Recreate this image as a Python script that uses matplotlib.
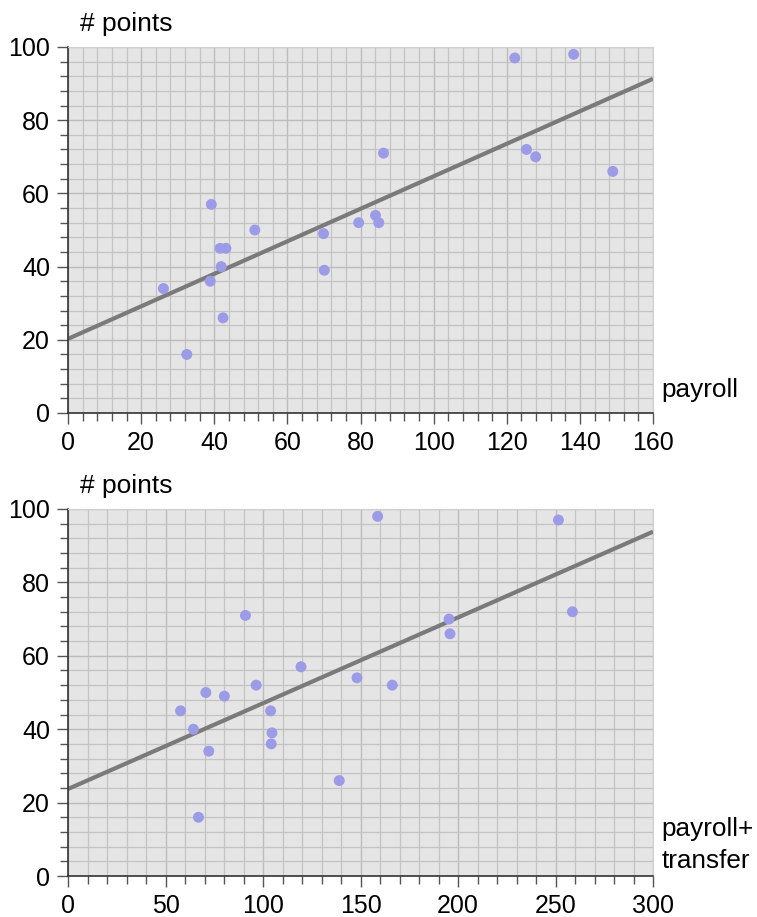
import numpy as np
import matplotlib.pyplot as plt
from matplotlib.ticker import MultipleLocator

plt.rcParams['font.family'] = ['Liberation Sans', 'DejaVu Sans']

points = [34, 16, 57, 36, 45, 45, 40, 26, 50, 49, 39, 52, 54, 52, 71, 97, 72, 70, 98, 66]
payroll = [26.1, 32.5, 39.2, 38.9, 41.6, 43.2, 41.9, 42.4, 51.1, 69.9,
           70.1, 79.5, 84.1, 85.0, 86.3, 122.2, 125.4, 127.9, 138.3, 149.0]

points2 = [45, 40, 50, 34, 16, 49, 71, 52, 45, 39, 36, 57, 26, 54, 98, 52, 70, 66, 97, 72]
payroll_transfer = [57.7, 64.3, 70.7, 72.2, 66.9, 80.2, 91.0, 96.5, 103.9, 104.6,
                    104.2, 119.5, 139.1, 148.2, 158.8, 166.3, 195.4, 195.9, 251.5, 258.7]

fig = plt.figure(figsize=(7.57, 9.17), dpi=100)


def panel(rect, x, y, xmax, xmajor, xminor, xlabel_lines, label_y):
    ax = fig.add_axes(rect)
    ax.set_facecolor('#e5e5e5')
    ax.set_xlim(0, xmax)
    ax.set_ylim(0, 100)
    ax.xaxis.set_major_locator(MultipleLocator(xmajor))
    ax.xaxis.set_minor_locator(MultipleLocator(xminor))
    ax.yaxis.set_major_locator(MultipleLocator(20))
    ax.yaxis.set_minor_locator(MultipleLocator(4))
    ax.grid(which='major', color='#bcbcbc', lw=1.0)
    ax.grid(which='minor', color='#c4c4c4', lw=0.9)
    ax.set_axisbelow(True)
    for s in ['top', 'right']:
        ax.spines[s].set_color('#d0d0d0')
    for s in ['left', 'bottom']:
        ax.spines[s].set_color('#333333')
        ax.spines[s].set_linewidth(1.2)
    ax.tick_params(which='major', length=8, width=1, color='#555555', labelsize=18, pad=5)
    ax.tick_params(which='minor', length=5.5, width=1, color='#555555')

    xa = np.array(x)
    ya = np.array(y)
    slope, icpt = np.polyfit(xa, ya, 1)
    xx = np.array([0, xmax])
    ax.plot(xx, icpt + slope * xx, color='#7a7a7a', lw=3, solid_capstyle='butt', zorder=2)
    ax.scatter(xa, ya, s=62, color='#9b9be8', edgecolors='none', zorder=3)

    ax.text(0.02, 1.03, '# points', transform=ax.transAxes, fontsize=19, va='bottom', ha='left')
    n = len(xlabel_lines)
    for i, t in enumerate(xlabel_lines):
        ax.text(1.015, label_y + (n - 1 - i) * 0.088, t, transform=ax.transAxes,
                fontsize=18.8, va='bottom', ha='left')
    return ax


panel([68 / 757, 1 - 413 / 917, 585 / 757, 366 / 917], payroll, points, 160, 20, 4,
      ['payroll'], 0.03)
panel([68 / 757, 1 - 876 / 917, 585 / 757, 367 / 917], payroll_transfer, points2, 300, 50, 10,
      ['payroll+', 'transfer'], 0.008)

plt.savefig('out.png', dpi=100)
